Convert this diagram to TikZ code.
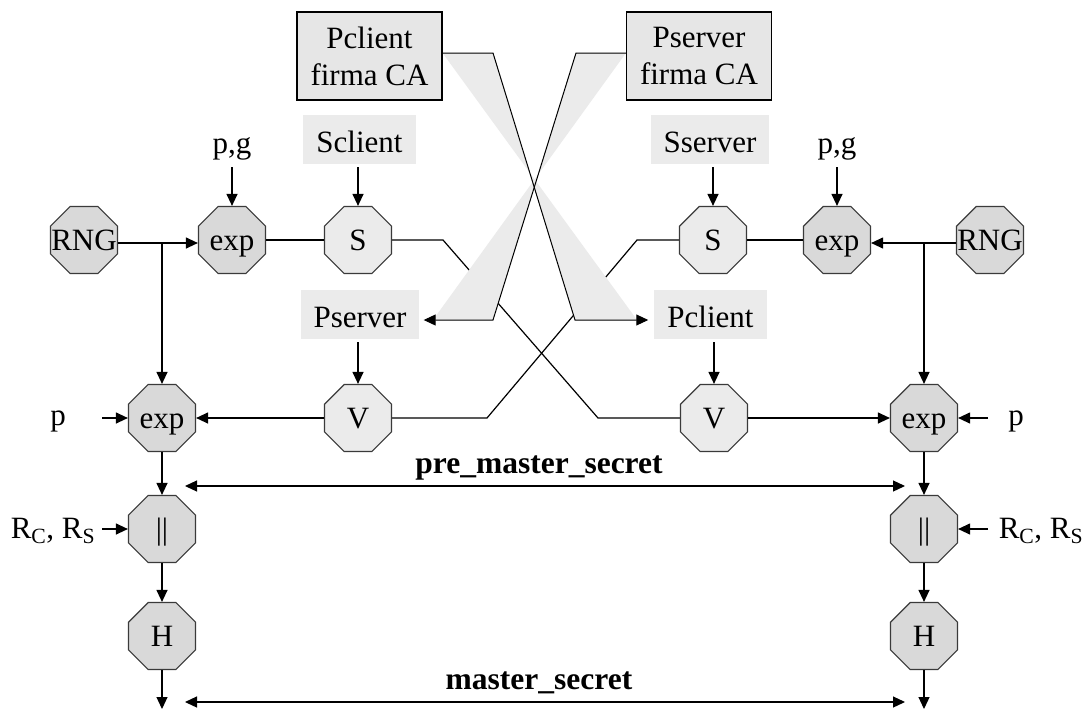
\documentclass[tikz,border=0pt]{standalone}
\usepackage{fontspec}
\setmainfont{Liberation Serif}
\usetikzlibrary{arrows.meta,shapes.geometric,backgrounds}

\definecolor{octdark}{HTML}{D9D9D9}
\definecolor{octlight}{HTML}{EBEBEB}
\definecolor{taggray}{HTML}{EBEBEB}
\definecolor{boxgray}{HTML}{E6E6E6}
\definecolor{bandgray}{HTML}{EBEBEB}
\definecolor{edgegray}{HTML}{3A3A3A}

\newcommand{\octtext}[1]{\makebox[0pt]{#1}}

\begin{document}
\begin{tikzpicture}[x=1pt,y=-1pt,
  every node/.style={font=\fontsize{31}{37}\selectfont},
  oct/.style={regular polygon, regular polygon sides=8, minimum size=72.5pt,
    inner sep=0pt, text height=20pt, text depth=0pt,
    draw=edgegray, line width=1.2pt},
  octd/.style={oct, fill=octdark},
  octl/.style={oct, fill=octlight},
  tag/.style={fill=taggray, minimum height=49pt, inner xsep=13pt, inner ysep=0pt,
    text height=25pt, text depth=0pt},
  cabox/.style={draw=black, fill=boxgray, line width=1.2pt, minimum width=145pt,
    minimum height=88pt, align=center, inner sep=0pt},
  plain/.style={inner sep=0pt, anchor=base},
  boldtext/.style={inner sep=0pt, font=\fontsize{31.5}{37}\selectfont\bfseries},
  wire/.style={line width=1.2pt},
  tip/.tip={Triangle[length=12pt,width=11pt]},
  arr/.style={wire, -tip},
  darr/.style={wire, tip-tip},
]
\useasboundingbox (0,0) rectangle (1084,710);

% certificate boxes
\node[cabox] (pcca) at (369.5,56) {Pclient\\firma CA};
\node[cabox] (psca) at (699,56) {Pserver\\firma CA};

% key labels
\node[tag] (scl) at (359.5,139.5) {Sclient};
\node[tag] (sse) at (710,139.5) {Sserver};
\node[tag] (pse) at (360,314.5) {Pserver};
\node[tag] (pcl) at (710.5,314.5) {Pclient};

\node[plain] (pgL) at (232,153) {p,g};
\node[plain] (pgR) at (837,153) {p,g};

% first row
\node[octd] (rngL)  at (84,240)  {\octtext{RNG}};
\node[octd] (expTL) at (232,240) {\octtext{exp}};
\node[octl] (sL)    at (358,240) {\octtext{S}};
\node[octl] (sR)    at (713,240) {\octtext{S}};
\node[octd] (expTR) at (837,240) {\octtext{exp}};
\node[octd] (rngR)  at (990,240) {\octtext{RNG}};

% second row
\node[octd] (expBL) at (162,418) {\octtext{exp}};
\node[octl] (vL)    at (358,418) {\octtext{V}};
\node[octl] (vR)    at (714,418) {\octtext{V}};
\node[octd] (expBR) at (924,418) {\octtext{exp}};
\node[plain] (pL) at (58,425) {p};
\node[plain] (pR) at (1016,425) {p};

% key derivation
\node[octd] (orL) at (162,529) {\octtext{||}};
\node[octd] (orR) at (924,529) {\octtext{||}};
\node[octd] (hL)  at (162,636) {\octtext{H}};
\node[octd] (hR)  at (924,636) {\octtext{H}};
\node[plain] (rsL) at (53,538) {R\textsubscript{C}, R\textsubscript{S}};
\node[plain] (rsR) at (1041,538) {R\textsubscript{C}, R\textsubscript{S}};

\node[boldtext] (pms) at (539,468) {pre\_master\_secret};
\node[boldtext] (ms)  at (539,683) {master\_secret};

% helper points
\coordinate (jL) at (162,243);
\coordinate (jR) at (924,243);
\coordinate (xa) at (443,240);
\coordinate (xb) at (598,418);
\coordinate (xc) at (637,240);
\coordinate (xd) at (487,418);
\coordinate (cA) at (493,53);
\coordinate (cB) at (575,320);
\coordinate (cC) at (637,320);
\coordinate (dA) at (576,53);
\coordinate (dB) at (493,320);
\coordinate (dC) at (433,320);
\coordinate (pmA) at (185,486);
\coordinate (pmB) at (905,486);
\coordinate (msA) at (185,702);
\coordinate (msB) at (905,702);
\coordinate (outL) at (162,709);
\coordinate (outR) at (924,709);

\begin{scope}[on background layer]
  \fill[white] (0,0) rectangle (1084,710);
  % signatures crossing to the other side
  \draw[wire] (sL.east) -- (xa) -- (xb) -- (vR.west);
  \draw[wire] (sR.west) -- (xc) -- (xd) -- (vL.east);
  % shaded certificate exchange
  \fill[bandgray] (cA -| pcca.east) -- (cA) -- (cB) -- (cC) -- cycle;
  \fill[bandgray] (dA -| psca.west) -- (dA) -- (dB) -- (dC) -- cycle;
\end{scope}

% certificate exchange
\draw[arr, line width=1pt, shorten >=6pt] (cA -| pcca.east) -- (cA) -- (cB) -- (cB -| pcl.west);
\draw[arr, line width=1pt, shorten >=4pt] (dA -| psca.west) -- (dA) -- (dB) -- (dB -| pse.east);

% inputs from above
\draw[arr] (expTL.north |- 0,167) -- (expTL.north);
\draw[arr] (expTR.north |- 0,167) -- (expTR.north);
\draw[arr, shorten <=3pt] (sL.north |- scl.south) -- (sL.north);
\draw[arr, shorten <=3pt] (sR.north |- sse.south) -- (sR.north);
\draw[arr, shorten <=3pt] (vL.north |- pse.south) -- (vL.north);
\draw[arr, shorten <=3pt] (vR.north |- pcl.south) -- (vR.north);

% first row links
\draw[arr] (jL -| rngL.east) -- (jL -| expTL.west);
\draw[arr] (jL) -- (expBL.north);
\draw[arr] (jR -| rngR.west) -- (jR -| expTR.east);
\draw[arr] (jR) -- (expBR.north);
\draw[wire] (expTL.east) -- (sL.west);
\draw[wire] (sR.east) -- (expTR.west);

% second row links
\draw[arr] (vL.west) -- (expBL.east);
\draw[arr] (vR.east) -- (expBR.west);
\draw[arr] (expBL.west -| 102,0) -- (expBL.west);
\draw[arr] (expBR.east -| 988,0) -- (expBR.east);

% derivation chain
\draw[arr] (expBL.south) -- (orL.north);
\draw[arr] (orL.south) -- (hL.north);
\draw[arr] (hL.south) -- (outL);
\draw[arr] (expBR.south) -- (orR.north);
\draw[arr] (orR.south) -- (hR.north);
\draw[arr] (hR.south) -- (outR);
\draw[arr] (orL.west -| 102,0) -- (orL.west);
\draw[arr] (orR.east -| 988,0) -- (orR.east);

% shared secrets
\draw[darr] (pmA) -- (pmB);
\draw[darr] (msA) -- (msB);
\end{tikzpicture}
\end{document}
